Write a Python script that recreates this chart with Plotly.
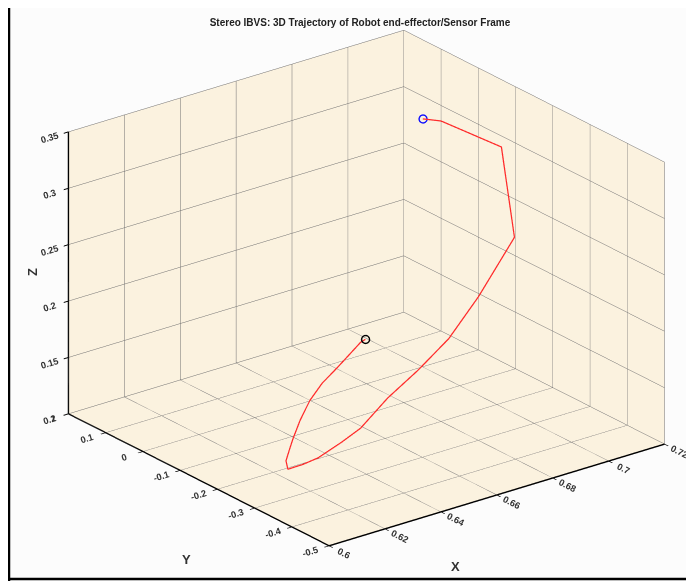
import plotly.graph_objects as go

title_text = "Stereo IBVS: 3D Trajectory of Robot end-effector/Sensor Frame"

# trajectory of the end-effector (start = first point, end = last point)
traj_x = [0.702, 0.7044, 0.7104, 0.714, 0.702, 0.690, 0.678, 0.666, 0.654, 0.6432, 0.6324, 0.6264,
          0.6216, 0.6204, 0.6204, 0.6204, 0.6216, 0.624, 0.6264, 0.6288, 0.6312, 0.6336, 0.6348]
traj_y = [0.014, -0.017, -0.134, -0.142, -0.135, -0.146, -0.153, -0.162, -0.179, -0.206, -0.227, -0.232,
          -0.227, -0.231, -0.239, -0.250, -0.260, -0.268, -0.283, -0.306, -0.320, -0.332, -0.336]
traj_z = [0.316, 0.3175, 0.3095, 0.228, 0.183, 0.157, 0.139, 0.125, 0.110, 0.1095, 0.108, 0.1076,
          0.106, 0.115, 0.125, 0.138, 0.155, 0.172, 0.188, 0.204, 0.216, 0.227, 0.2295]

x_ticks = [0.6, 0.62, 0.64, 0.66, 0.68, 0.7, 0.72]
x_labels = ["0.6", "0.62", "0.64", "0.66", "0.68", "0.7", "0.72"]
y_ticks = [-0.5, -0.4, -0.3, -0.2, -0.1, 0, 0.1, 0.2]
y_labels = ["-0.5", "-0.4", "-0.3", "-0.2", "-0.1", "0", "0.1", "0.2"]
z_ticks = [0.1, 0.15, 0.2, 0.25, 0.3, 0.35]
z_labels = ["0.1", "0.15", "0.2", "0.25", "0.3", "0.35"]

# the page body has an 8px margin; the figure is sized to fill the rest of the window
OFF = 8
W, H = 694 - OFF, 581 - OFF
def px(xr, yr):
    return (xr - OFF) / W, 1 - (yr - OFF) / H

FONT = "Liberation Sans, Arial, sans-serif"

fig = go.Figure()
fig.add_trace(go.Scatter3d(x=traj_x, y=traj_y, z=traj_z, mode="lines",
                           line=dict(color="#ff2a2a", width=2.5), showlegend=False))
fig.add_trace(go.Scatter3d(x=[traj_x[0]], y=[traj_y[0]], z=[traj_z[0]], mode="markers",
                           marker=dict(symbol="circle-open", size=5, color="#1010ff",
                                       line=dict(width=4, color="#1010ff")), showlegend=False))
fig.add_trace(go.Scatter3d(x=[traj_x[-1]], y=[traj_y[-1]], z=[traj_z[-1]], mode="markers",
                           marker=dict(symbol="circle-open", size=5, color="#000000",
                                       line=dict(width=4, color="#000000")), showlegend=False))

tickfont = dict(family=FONT, size=10.5, color="#333333", weight="bold")
def axis(ticks, labels):
    return dict(range=[ticks[0], ticks[-1]], tickvals=ticks, ticktext=labels, tickfont=tickfont,
                showgrid=True, gridcolor="#6e6e6e", gridwidth=1,
                zeroline=False, showline=True, linecolor="black", linewidth=3,
                ticks="outside", ticklen=6, tickwidth=2, tickcolor="black",
                showbackground=True, backgroundcolor="#fbf2df", title=dict(text=""),
                showspikes=False, autorange=False)

d = (-0.563, -0.7275, 0.3916)
k = 2.0
S = 1.549
cx0, cy0 = px(366, 288)
hw = min(cx0, 1 - cx0) - 0.001
hh = 0.48
fig.update_layout(
    width=W, height=H,
    margin=dict(l=0, r=0, t=0, b=0),
    paper_bgcolor="#fcfcfc",
    title=dict(text=title_text, x=px(360, 0)[0], xanchor="center", y=px(0, 22)[1], yanchor="middle",
               yref="container",
               font=dict(family=FONT, size=10, color="#222222", weight="bold")),
    scene=dict(
        domain=dict(x=[cx0 - hw, cx0 + hw], y=[cy0 - hh, cy0 + hh]),
        xaxis=axis(x_ticks, x_labels),
        yaxis=axis(y_ticks, y_labels),
        zaxis=axis(z_ticks, z_labels),
        aspectmode="manual",
        aspectratio=dict(x=0.9956 * S, y=1.0 * S, z=0.7194 * S),
        camera=dict(eye=dict(x=k * d[0], y=k * d[1], z=k * d[2]),
                    up=dict(x=0, y=0, z=1), center=dict(x=0, y=0, z=0),
                    projection=dict(type="orthographic")),
        bgcolor="rgba(0,0,0,0)",
    ),
    annotations=[
        dict(text="X", x=px(455, 0)[0], y=px(0, 566)[1], xref="paper", yref="paper", showarrow=False,
             xanchor="center", yanchor="middle",
             font=dict(family=FONT, size=13, color="#333", weight="bold")),
        dict(text="Y", x=px(186, 0)[0], y=px(0, 559)[1], xref="paper", yref="paper", showarrow=False,
             xanchor="center", yanchor="middle",
             font=dict(family=FONT, size=13, color="#333", weight="bold")),
        dict(text="Z", x=px(32, 0)[0], y=px(0, 272)[1], xref="paper", yref="paper", showarrow=False,
             xanchor="center", yanchor="middle",
             textangle=-90, font=dict(family=FONT, size=13, color="#333", weight="bold")),
    ],
    shapes=[
        dict(type="line", xref="paper", yref="paper", x0=px(9, 0)[0], x1=px(9, 0)[0], y0=0, y1=1,
             line=dict(color="black", width=2.5)),
        dict(type="line", xref="paper", yref="paper", x0=0, x1=1, y0=px(0, 579)[1], y1=px(0, 579)[1],
             line=dict(color="black", width=2.5)),
    ],
)

fig.write_html("out.html")
